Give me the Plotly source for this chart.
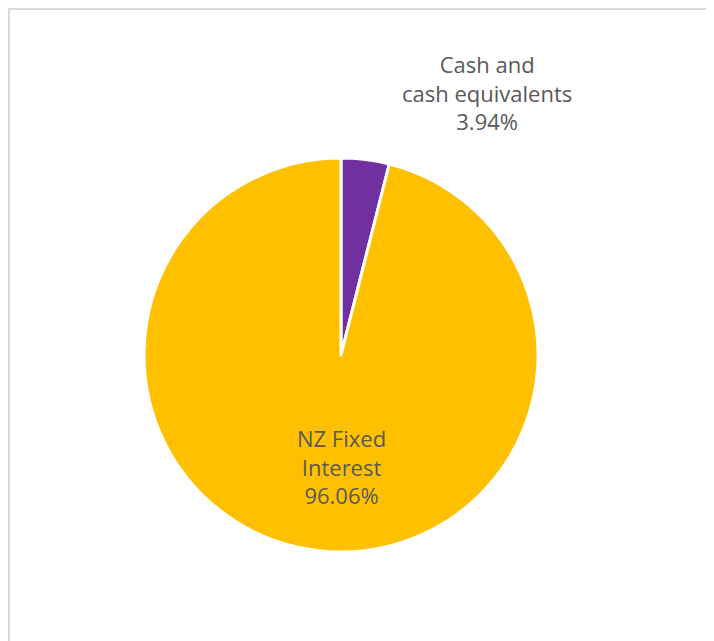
import plotly.graph_objects as go

labels = ["Cash and<br>cash equivalents", "NZ Fixed<br>Interest"]
values = [3.94, 96.06]
colors = ["#7030A0", "#FFC000"]

W, H = 714, 641
off = 8  # page body margin
cx, cy, r = 341 - off, 355 - off, 197

fig = go.Figure(go.Pie(
    labels=labels, values=values, sort=False, direction="clockwise", rotation=0,
    marker=dict(colors=colors, line=dict(color="white", width=3)),
    textinfo="none", hoverinfo="label+percent", showlegend=False,
    domain=dict(x=[(cx - r) / W, (cx + r) / W], y=[(H - cy - r) / H, (H - cy + r) / H]),
))

font = dict(family="Open Sans", size=22, color="#595959")
label_pos = [(487 - off, 93 - off), (341 - off, 466 - off)]
for lab, val, (px, py) in zip(labels, values, label_pos):
    fig.add_annotation(x=px / W, y=1 - py / H, xref="paper", yref="paper",
                       text=f"{lab}<br>{val:.2f}%", showarrow=False, font=font,
                       align="center", xanchor="center", yanchor="middle")

fig.add_shape(type="rect", xref="paper", yref="paper", x0=1 / W, x1=1.2, y0=-0.2,
              y1=1 - 1 / H,
              line=dict(color="#D9D9D9", width=2), fillcolor="rgba(0,0,0,0)", layer="below")

fig.update_layout(width=W, height=H, margin=dict(l=0, r=0, t=0, b=0),
                  paper_bgcolor="white", plot_bgcolor="white")
fig.write_html("out.html")
